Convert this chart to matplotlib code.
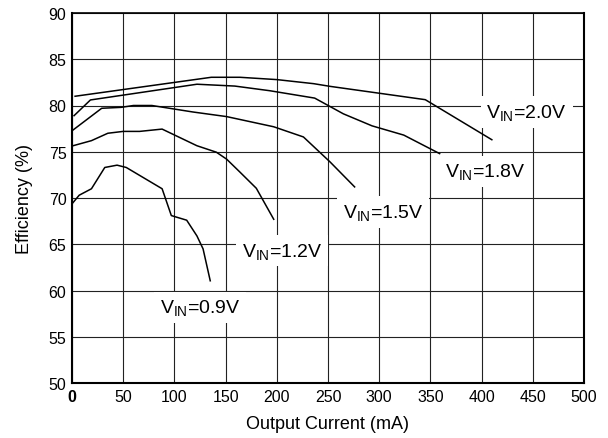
import matplotlib
matplotlib.use("Agg")
import matplotlib.pyplot as plt

plt.rcParams['font.family'] = ['Liberation Sans', 'DejaVu Sans']
plt.rcParams['mathtext.fontset'] = 'custom'
plt.rcParams['mathtext.rm'] = 'Liberation Sans'
plt.rcParams['mathtext.it'] = 'Liberation Sans:italic'
plt.rcParams['mathtext.bf'] = 'Liberation Sans:bold'

# Data
i20 = [3, 136, 164, 200, 236, 252, 345, 410]
e20 = [81.0, 83.05, 83.05, 82.8, 82.36, 82.07, 80.63, 76.3]

i18 = [2, 18, 122, 159, 193, 237, 265, 293, 324, 359]
e18 = [78.9, 80.6, 82.3, 82.1, 81.6, 80.8, 79.1, 77.8, 76.8, 74.8]

i15 = [1, 29, 48, 60, 78, 118, 151, 197, 226, 252, 276]
e15 = [77.35, 79.7, 79.8, 80.0, 80.0, 79.3, 78.8, 77.7, 76.6, 73.9, 71.2]

i12 = [1, 19, 35, 50, 66, 88, 122, 141, 151, 164, 180, 197]
e12 = [75.65, 76.2, 77.0, 77.2, 77.2, 77.45, 75.65, 74.95, 74.2, 72.8, 71.05, 67.7]

i09 = [1, 7, 19, 32, 44, 53, 88, 97, 112, 122, 128, 135]
e09 = [69.5, 70.3, 71.0, 73.3, 73.55, 73.3, 71.0, 68.1, 67.6, 65.9, 64.5, 61.05]

labels = ['2.0V', '1.8V', '1.5V', '1.2V', '0.9V']
label_x = [444, 404, 304, 205, 125]
label_y = [79.3, 72.9, 68.5, 64.3, 58.2]

xticks = list(range(0, 501, 50))
yticks = list(range(50, 91, 5))

fig = plt.figure(figsize=(6.08, 4.39), dpi=100)
ax = fig.add_axes([72/608, 1-384/439, 512/608, 370/439])

for xs, ys in [(i20, e20), (i18, e18), (i15, e15), (i12, e12), (i09, e09)]:
    ax.plot(xs, ys, color='black', lw=1.1, zorder=3)

for lab, lx, ly in zip(labels, label_x, label_y):
    ax.text(lx, ly, r'V$_{\mathrm{IN}}$=' + lab, fontsize=14, ha='center', va='center',
            zorder=5, bbox=dict(facecolor='white', edgecolor='none', pad=4))

ax.set_xlim(0, 500)
ax.set_ylim(50, 90)
ax.set_xticks(xticks)
ax.set_yticks(yticks)
ax.tick_params(length=0, labelsize=11.5, pad=4)
ax.grid(True, color='#222222', lw=0.8, zorder=1)
ax.set_axisbelow(True)
for s in ['left', 'bottom', 'right']:
    ax.spines[s].set_linewidth(1.5)
ax.spines['top'].set_linewidth(1.2)

fig.canvas.draw()
ax.get_xticklabels()[0].set_fontweight('bold')

ax.set_xlabel('Output Current (mA)', fontsize=13, labelpad=8)
ax.set_ylabel('Efficiency (%)', fontsize=13, labelpad=11)

fig.savefig('out.png', dpi=100)
